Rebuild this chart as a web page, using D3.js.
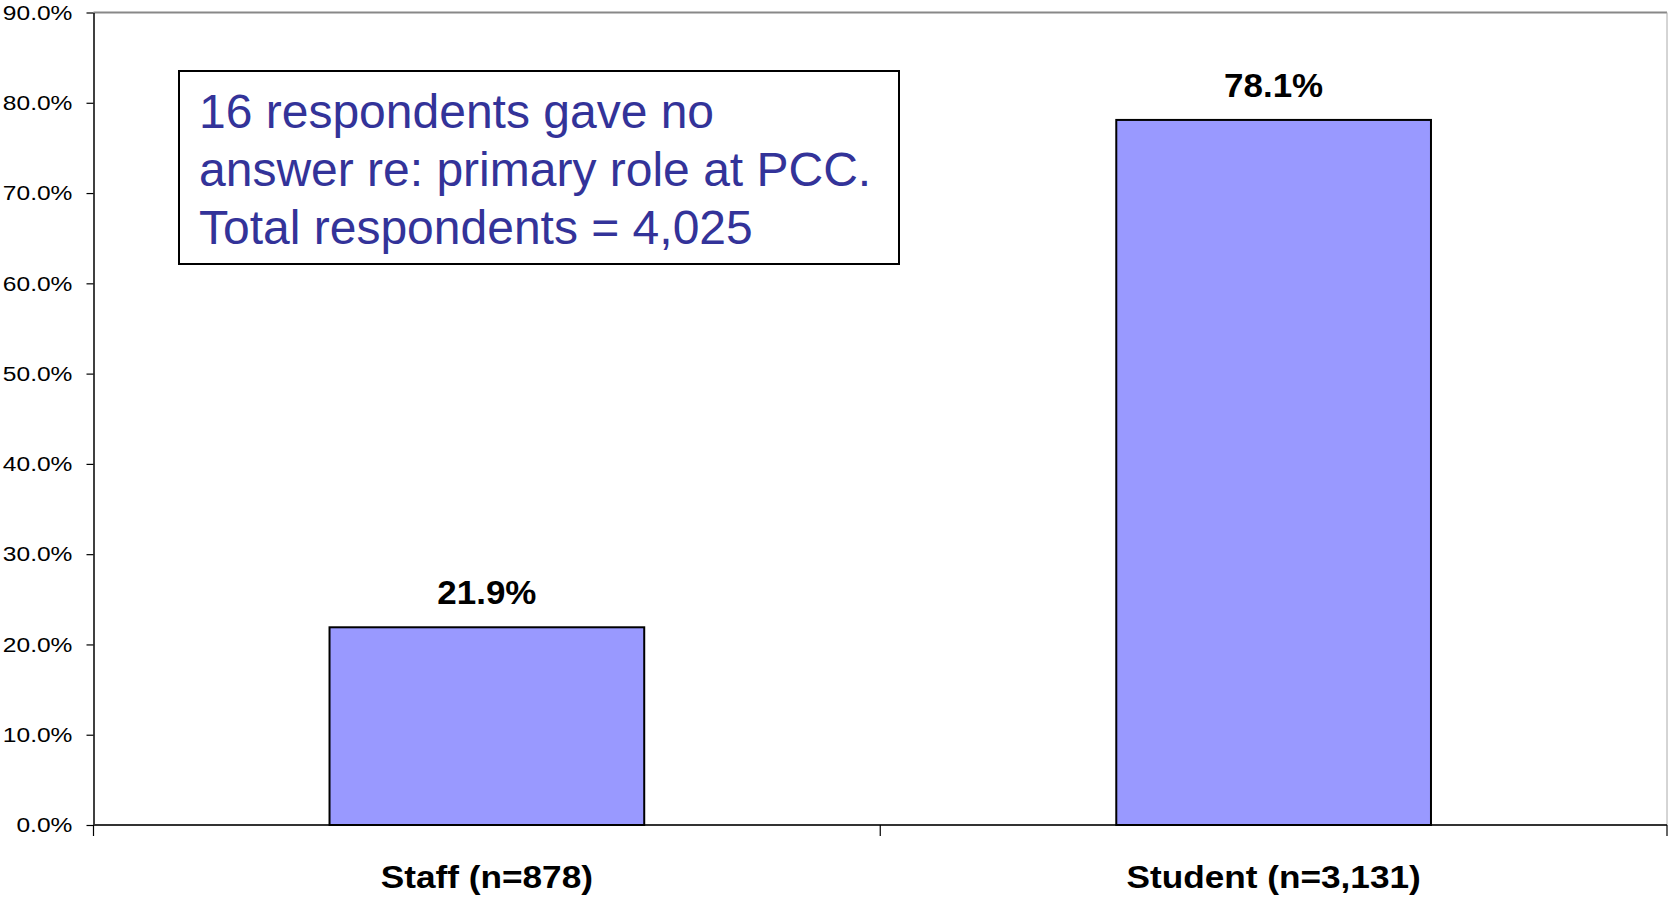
<!DOCTYPE html>
<html>
<head>
<meta charset="utf-8">
<script src="https://cdn.jsdelivr.net/npm/d3@7"></script>
<style>
  body { margin: 0; background: #fff; }
  text { font-family: "Liberation Sans", Arial, sans-serif; }
</style>
</head>
<body>
<div id="chart"></div>
<script>
var categories = ["Staff (n=878)", "Student (n=3,131)"];
var shares = [0.219, 0.781];
var yTicks = [0, 0.1, 0.2, 0.3, 0.4, 0.5, 0.6, 0.7, 0.8, 0.9];
var noteLines = ["16 respondents gave no", "answer re: primary role at PCC.", "Total respondents = 4,025"];

var W = 1669, H = 898;
var margin = {top: 12.5, right: 2, bottom: 73, left: 93.5},
    width = W - margin.left - margin.right,
    height = H - margin.top - margin.bottom;

var svg = d3.select("#chart")
  .append("svg")
    .attr("width", W)
    .attr("height", H)
  .append("g")
    .attr("transform", "translate(" + margin.left + "," + margin.top + ")");

var x = d3.scaleBand()
    .domain(categories)
    .range([0, width])
    .paddingInner(0.6)
    .paddingOuter(0.3);

var y = d3.scaleLinear()
    .domain([0, 0.9])
    .range([height, 0]);

// plot frame (grey top/right edges)
svg.append("line")
    .attr("x1", 0).attr("x2", width)
    .attr("y1", y(0.9)).attr("y2", y(0.9))
    .attr("stroke", "#888").attr("stroke-width", 2);
svg.append("line")
    .attr("x1", width).attr("x2", width)
    .attr("y1", y(0.9)).attr("y2", height)
    .attr("stroke", "#aaa").attr("stroke-width", 1);

// y axis
var yAxis = svg.append("g")
    .call(d3.axisLeft(y).tickValues(yTicks).tickFormat(d3.format(".1%")).tickSize(7).tickSizeOuter(0));
yAxis.select(".domain").attr("stroke", "#000").attr("stroke-width", 1.5);
yAxis.selectAll(".tick line").attr("stroke", "#000").attr("stroke-width", 1.2);
yAxis.selectAll(".tick text")
    .attr("x", -18)
    .attr("transform", "scale(1.17,1)")
    .style("font-size", "21px")
    .attr("fill", "#000");

// x axis with ticks at band boundaries
var bounds = categories.map(function(d) { return x(d) - x.step() * x.paddingOuter(); });
bounds.push(width);
svg.append("line")
    .attr("x1", 0).attr("x2", width)
    .attr("y1", height).attr("y2", height)
    .attr("stroke", "#333").attr("stroke-width", 2);
svg.selectAll(".xtick")
    .data(bounds)
    .enter()
    .append("line")
    .attr("class", "xtick")
    .attr("x1", d => d).attr("x2", d => d)
    .attr("y1", height).attr("y2", height + 11)
    .attr("stroke", "#000").attr("stroke-width", 1.2);

// bars
svg.selectAll(".bar")
    .data(shares)
    .enter()
    .append("rect")
    .attr("class", "bar")
    .attr("x", (d, i) => x(categories[i]))
    .attr("y", d => y(d))
    .attr("width", x.bandwidth())
    .attr("height", d => height - y(d))
    .attr("fill", "#9999ff")
    .attr("stroke", "#000")
    .attr("stroke-width", 2);

// value labels
svg.selectAll(".val")
    .data(shares)
    .enter()
    .append("text")
    .attr("class", "val")
    .attr("transform", (d, i) => "translate(" + (x(categories[i]) + x.bandwidth() / 2) + "," + (y(d) - 23) + ") scale(1.06,1)")
    .attr("text-anchor", "middle")
    .style("font-size", "33px")
    .style("font-weight", "bold")
    .text(d => d3.format(".1%")(d));

// category labels
svg.selectAll(".cat")
    .data(categories)
    .enter()
    .append("text")
    .attr("class", "cat")
    .attr("transform", d => "translate(" + (x(d) + x.bandwidth() / 2) + "," + (height + 63) + ") scale(1.1,1)")
    .attr("text-anchor", "middle")
    .style("font-size", "32px")
    .style("font-weight", "bold")
    .text(d => d);

// note box
var note = svg.append("g")
    .attr("transform", "translate(" + (179 - margin.left) + "," + (71 - margin.top) + ")");
note.append("rect")
    .attr("width", 720)
    .attr("height", 193)
    .attr("fill", "#fff")
    .attr("stroke", "#000")
    .attr("stroke-width", 2);
note.selectAll("text")
    .data(noteLines)
    .enter()
    .append("text")
    .attr("x", 20)
    .attr("y", (d, i) => 57 + i * 58)
    .style("font-size", "48px")
    .attr("fill", "#333399")
    .text(d => d);
</script>
</body>
</html>
